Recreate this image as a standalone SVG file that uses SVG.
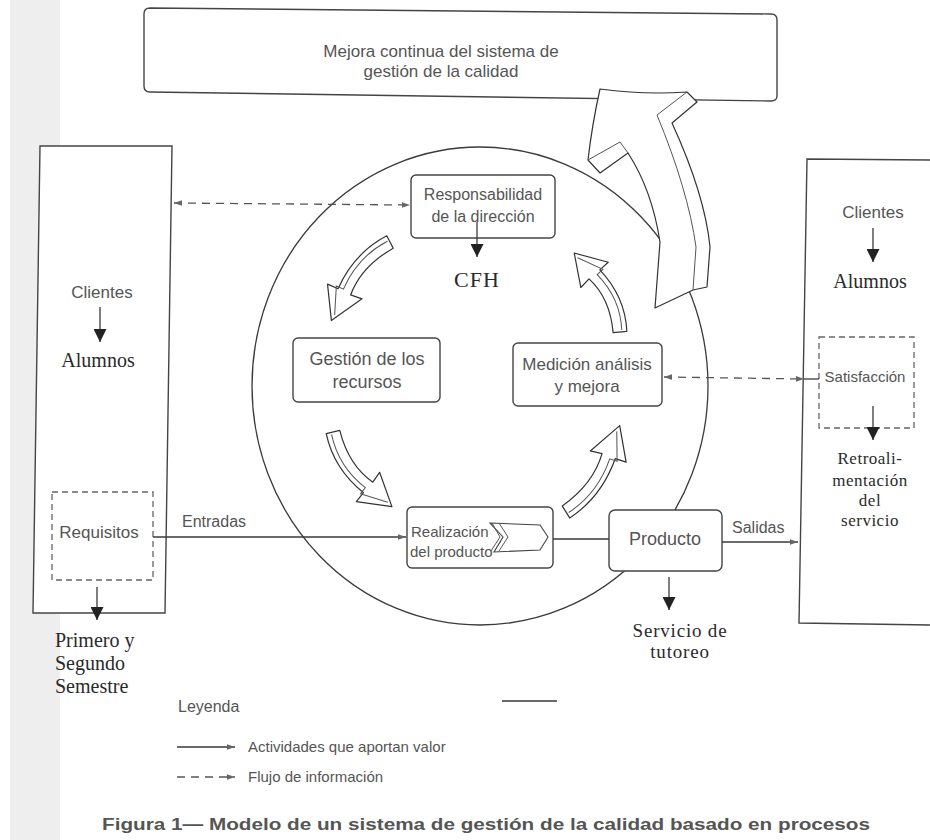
<svg xmlns="http://www.w3.org/2000/svg" width="930" height="840" viewBox="0 0 930 840">
<defs>
<style>
.ln{fill:none;stroke:#3a3a3a;stroke-width:1.3}
.bx{fill:#fff;stroke:#444;stroke-width:1.4}
.dbx{fill:none;stroke:#666;stroke-width:1.3;stroke-dasharray:6 4}
.dash{fill:none;stroke:#555;stroke-width:1.3;stroke-dasharray:8 6}
.sans{font-family:"Liberation Sans",Arial,sans-serif;fill:#555}
.serif{font-family:"Liberation Serif","Times New Roman",serif;fill:#2a2a2a}
.c{text-anchor:middle}
.blk{fill:#fff;stroke:#333;stroke-width:1.2;stroke-linejoin:round}
.in{fill:none;stroke:#555;stroke-width:1}
</style>
<marker id="ah" viewBox="0 0 10 10" refX="10" refY="5" markerWidth="13" markerHeight="8" markerUnits="userSpaceOnUse" orient="auto-start-reverse"><path d="M0,1.5 L10,5 L0,8.5 Z" fill="#666"/></marker>
<marker id="dn" viewBox="0 0 10 10" refX="10" refY="5" markerWidth="14" markerHeight="13" markerUnits="userSpaceOnUse" orient="auto"><path d="M0,0 L10,5 L0,10 Z" fill="#222"/></marker>
<path id="carrow" d="M-2.7,-6.4 Q30,-21 67,-11 L70,-22 L95,3.8 L60,14 L64,2.7 Q36,-7 2.7,6.4 Z"/>
<path id="carrowin" d="M1,-2.5 Q31,-16 64,-6.5 L66,-14 L89,3"/>
</defs>
<rect x="0" y="0" width="930" height="840" fill="#fff"/>
<rect x="10" y="0" width="50" height="840" fill="#eeeeee"/>

<ellipse cx="480" cy="386" rx="228" ry="239" class="ln" stroke-width="1.6"/>

<g id="mejora">
<path class="bx" d="M150,8 L771,14 Q777,14 777,20 L777,96 Q777,101 771,101 L150,92 Q144,92 144,86 L144,14 Q144,8 150,8 Z"/>
<text class="sans c" x="441" y="57" font-size="17">Mejora continua del sistema de</text>
<text class="sans c" x="441" y="77" font-size="17">gestión de la calidad</text>
</g>

<g id="big-arrow">
<path class="blk" d="M655,308 L660,242 Q652,190 628,153 L600,173 L588,160 Q592,125 600,89 Q645,95 687,92 L697,102 L672,123 Q705,195 710,247 L707,287 L693,290 Z"/>
<path class="in" d="M588,160 L620,142 L628,153"/>
<path class="in" d="M657,115 L687,92"/>
<path class="in" d="M657,115 Q688,190 696,247 L693,290"/>
</g>

<g id="cycle-arrows">
<g transform="translate(390,242) rotate(129) scale(1.03,-1)"><use href="#carrow" class="blk"/><use href="#carrowin" class="in"/></g>
<g transform="translate(620,332) rotate(-117.7) scale(0.96,-1)"><use href="#carrow" class="blk"/><use href="#carrowin" class="in"/></g>
<g transform="translate(333,432) rotate(54) scale(1,-1)"><use href="#carrow" class="blk"/><use href="#carrowin" class="in"/></g>
<g transform="translate(566,512) rotate(-56) scale(1.07,-1)"><use href="#carrow" class="blk"/><use href="#carrowin" class="in"/></g>
</g>

<g id="left-box">
<path class="bx" d="M40,146 L172,146 L165,613 L33,613 Z"/>
<text class="sans c" x="102" y="298" font-size="17" fill="#666">Clientes</text>
<text class="serif c" x="98" y="367" font-size="20">Alumnos</text>
</g>
<g id="requisitos">
<rect class="dbx" x="52" y="492" width="101" height="88"/>
<text class="sans c" x="99" y="538" font-size="17" fill="#666">Requisitos</text>
</g>
<g id="semestre">
<text class="serif" x="55" y="647" font-size="20">Primero y</text>
<text class="serif" x="55" y="670" font-size="20">Segundo</text>
<text class="serif" x="55" y="693" font-size="20">Semestre</text>
</g>

<g id="right-box">
<path class="bx" d="M807,159 L935,160 L935,625 L799,623 Z"/>
<text class="sans c" x="873" y="218" font-size="17" fill="#666">Clientes</text>
<text class="serif c" x="870" y="288" font-size="20">Alumnos</text>
</g>
<g id="satisfaccion">
<rect class="dbx" x="819" y="337" width="95" height="91"/>
<text class="sans c" x="865" y="382" font-size="15" fill="#777">Satisfacción</text>
</g>
<g id="retro">
<text class="serif c" x="870" y="464" font-size="17" letter-spacing="0.5">Retroali-</text>
<text class="serif c" x="870" y="486" font-size="17" letter-spacing="0.5">mentación</text>
<text class="serif c" x="870" y="506" font-size="17" letter-spacing="0.5">del</text>
<text class="serif c" x="870" y="526" font-size="17" letter-spacing="0.5">servicio</text>
</g>

<g id="responsabilidad">
<rect class="bx" x="411" y="175" width="144" height="63" rx="5"/>
<text class="sans c" x="483" y="200" font-size="16">Responsabilidad</text>
<text class="sans c" x="483" y="222" font-size="16">de la dirección</text>
</g>
<g id="cfh"><text class="serif c" x="477" y="287" font-size="22" letter-spacing="1">CFH</text></g>

<g id="gestion">
<rect class="bx" x="293" y="338" width="147" height="64" rx="5"/>
<text class="sans c" x="367" y="365" font-size="18">Gestión de los</text>
<text class="sans c" x="367" y="388" font-size="18">recursos</text>
</g>

<g id="medicion">
<rect class="bx" x="513" y="343" width="149" height="63" rx="5"/>
<text class="sans c" x="587" y="370" font-size="17" fill="#777">Medición análisis</text>
<text class="sans c" x="587" y="392" font-size="17" fill="#777">y mejora</text>
</g>

<g id="realizacion">
<rect class="bx" x="407" y="507" width="146" height="61" rx="5"/>
<path fill="#fff" stroke="#444" stroke-width="1.1" d="M490,523 L540,525 L548,537 L540,550 L494,552 L503,537 Z"/>
<path class="in" d="M492,523 L500,537 L491,551 M499,523 L508,537 L499,551"/>
<text class="sans" x="411" y="537" font-size="15">Realización</text>
<text class="sans" x="410" y="557" font-size="15">del producto</text>
</g>

<g id="producto">
<rect class="bx" x="609" y="510" width="113" height="61" rx="6"/>
<text class="sans c" x="665" y="545" font-size="18">Producto</text>
</g>
<g id="servicio">
<text class="serif c" x="680" y="637" font-size="19" letter-spacing="0.8">Servicio de</text>
<text class="serif c" x="680" y="658" font-size="19" letter-spacing="0.8">tutoreo</text>
</g>

<g id="connectors">
<line class="dash" x1="174" y1="203" x2="410" y2="205" marker-start="url(#ah)" marker-end="url(#ah)"/>
<line class="dash" x1="664" y1="377" x2="804" y2="379" marker-start="url(#ah)" marker-end="url(#ah)"/>
<line class="ln" x1="804" y1="379" x2="819" y2="379"/>
<line class="ln" x1="153" y1="537" x2="406" y2="537" marker-end="url(#ah)"/>
<line class="ln" x1="553" y1="539" x2="609" y2="539"/>
<line class="ln" x1="722" y1="542" x2="798" y2="542" marker-end="url(#ah)"/>
<line class="ln" x1="477" y1="222" x2="477" y2="257" marker-end="url(#dn)"/>
<line class="ln" x1="100" y1="307" x2="100" y2="342" marker-end="url(#dn)"/>
<line class="ln" x1="97" y1="587" x2="97" y2="620" marker-end="url(#dn)"/>
<line class="ln" x1="669" y1="577" x2="669" y2="610" marker-end="url(#dn)"/>
<line class="ln" x1="873" y1="228" x2="873" y2="262" marker-end="url(#dn)"/>
<line class="ln" x1="873" y1="406" x2="873" y2="440" marker-end="url(#dn)"/>
</g>
<text class="sans" x="182" y="527" font-size="16">Entradas</text>
<text class="sans" x="732" y="533" font-size="16">Salidas</text>

<g id="legend">
<text class="sans" x="178" y="712" font-size="16" fill="#333">Leyenda</text>
<line class="ln" x1="177" y1="747" x2="235" y2="747" marker-end="url(#ah)"/>
<text class="sans" x="248" y="752" font-size="15">Actividades que aportan valor</text>
<line class="dash" x1="177" y1="777" x2="235" y2="777" stroke-dasharray="7 5" marker-end="url(#ah)"/>
<text class="sans" x="248" y="782" font-size="15">Flujo de información</text>
<line class="ln" x1="502" y1="701" x2="557" y2="701"/>
</g>

<text class="sans" x="102" y="830" font-size="16" font-weight="bold" fill="#3a3a3a" textLength="768" lengthAdjust="spacingAndGlyphs">Figura 1— Modelo de un sistema de gestión de la calidad basado en procesos</text>
</svg>
